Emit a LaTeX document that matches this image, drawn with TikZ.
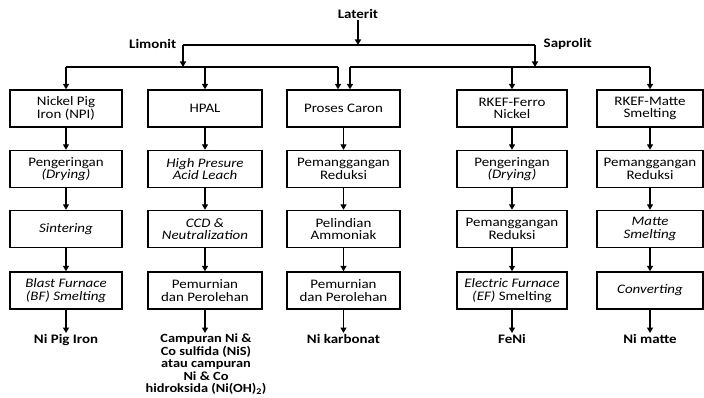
\documentclass[tikz,border=0pt]{standalone}
\usepackage{fontspec}
\setmainfont{Carlito}[FakeStretch=1.15]
\usetikzlibrary{arrows.meta}
\begin{document}
\begin{tikzpicture}[x=1pt,y=-1pt, line width=1.4pt,
  arr/.style={-{Triangle[length=5.5pt,width=6pt]}},
  box/.style={draw, minimum width=112pt, minimum height=37pt, align=center, inner sep=1pt,
    font=\fontsize{13}{12.7}\selectfont},
  lbl/.style={font=\fontsize{13}{13}\selectfont\bfseries, align=center, inner sep=1pt}]
\useasboundingbox (0,0) rectangle (704,398);
% top labels
\node[lbl] (lat) at (358,14) {Laterit};
\node[lbl, anchor=east] (lim) at (178,44) {Limonit};
\node[lbl, anchor=west] (sap) at (542,44) {Saprolit};
\coordinate (jM) at (358,45);
\coordinate (jL) at (183,45);
\coordinate (jS) at (535,45);
\coordinate (kL) at (183,67);
\coordinate (kS) at (535,67);
\coordinate (lA) at (66,67);
\coordinate (lB) at (338,67);
\coordinate (sA) at (350,67);
\coordinate (sB) at (650,67);
% column 1
\node[box] (a1) at (66,108.5) {Nickel Pig\\Iron (NPI)};
\node[box] (a2) at (66,169) {Pengeringan\\\textit{(Drying)}};
\node[box] (a3) at (66,229) {\textit{Sintering}};
\node[box] (a4) at (66,290.5) {\textit{Blast Furnace}\\\textit{(BF) Smelting}};
\node[lbl, anchor=north] (a5) at (66,333) {Ni Pig Iron};
% column 2
\node[box, minimum width=114pt] (b1) at (205,108.5) {HPAL};
\node[box, minimum width=114pt] (b2) at (205,169) {\textit{High Presure}\\\textit{Acid Leach}};
\node[box, minimum width=114pt] (b3) at (205,229) {\textit{CCD \&}\\\textit{Neutralization}};
\node[box, minimum width=114pt] (b4) at (205,290.5) {Pemurnian\\dan Perolehan};
\node[lbl, anchor=north, inner sep=0pt, font=\fontsize{12.5}{12.6}\selectfont\bfseries] (b5) at (206,333) {Campuran Ni \&\\Co sulfida (NiS)\\atau campuran\\Ni \& Co\\hidroksida (Ni(OH)\textsubscript{2})};
% column 3
\node[box, minimum width=113pt] (c1) at (343.5,108.5) {Proses Caron};
\node[box, minimum width=113pt] (c2) at (343.5,169) {Pemanggangan\\Reduksi};
\node[box, minimum width=113pt] (c3) at (343.5,229) {Pelindian\\Ammoniak};
\node[box, minimum width=113pt] (c4) at (343.5,290.5) {Pemurnian\\dan Perolehan};
\node[lbl, anchor=north] (c5) at (343.5,333) {Ni karbonat};
% column 4
\node[box, minimum width=110pt] (d1) at (512,108.5) {RKEF-Ferro\\Nickel};
\node[box, minimum width=110pt] (d2) at (512,169) {Pengeringan\\\textit{(Drying)}};
\node[box, minimum width=110pt] (d3) at (512,229) {Pemanggangan\\Reduksi};
\node[box, minimum width=110pt] (d4) at (512,290.5) {\textit{Electric Furnace}\\\textit{(EF)} Smelting};
\node[lbl, anchor=north] (d5) at (512,333) {FeNi};
% column 5
\node[box, minimum width=106pt] (e1) at (650,108.5) {RKEF-Matte\\Smelting};
\node[box, minimum width=106pt] (e2) at (650,169) {Pemanggangan\\Reduksi};
\node[box, minimum width=106pt] (e3) at (650,229) {\textit{Matte}\\\textit{Smelting}};
\node[box, minimum width=106pt] (e4) at (650,290.5) {\textit{Converting}};
\node[lbl, anchor=north] (e5) at (650,333) {Ni matte};
% top connectors
\draw[arr] (lat) -- (jM);
\draw (jL) -- (jS);
\draw[arr] (jL) -- (kL);
\draw[arr] (jS) -- (kS);
\draw (lA) -- (lB);
\draw (sA) -- (sB);
\draw[arr] (lA) -- (a1.north);
\draw[arr] (b1.north |- lA) -- (b1.north);
\draw[arr] (lB) -- (lB |- c1.north);
\draw[arr] (sA) -- (sA |- c1.north);
\draw[arr] (d1.north |- sA) -- (d1.north);
\draw[arr] (sB) -- (e1.north);
% column connectors
\foreach \c in {a,b,c,d,e}{
  \draw[arr] (\c1) -- (\c2);
  \draw[arr] (\c2) -- (\c3);
  \draw[arr] (\c3) -- (\c4);
  \draw[arr] (\c4.south) -- (\c4.south |- \c5.north);
}
\end{tikzpicture}
\end{document}
